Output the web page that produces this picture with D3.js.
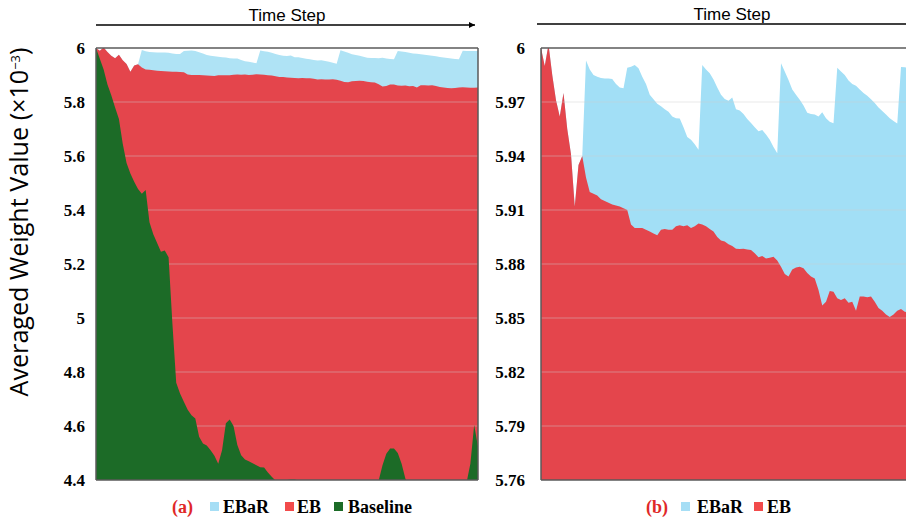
<!DOCTYPE html>
<html><head><meta charset="utf-8">
<script src="https://cdn.jsdelivr.net/npm/d3@7"></script>
<style>body{margin:0;background:#fff}</style>
</head><body><svg id="c" width="906" height="519"></svg>
<script>
const steps = d3.range(0, 101);
const eb = [6.0,5.990,6.002,5.985,5.971,5.962,5.975,5.955,5.941,5.912,5.935,5.940,5.928,5.920,5.919,5.918,5.916,5.915,5.914,5.913,
5.9125,5.912,5.911,5.910,5.902,5.900,5.900,5.900,5.899,5.898,5.897,5.896,5.899,5.8995,5.899,5.899,5.901,5.9015,5.901,5.9015,
5.900,5.901,5.9025,5.902,5.901,5.8995,5.898,5.895,5.893,5.8925,5.891,5.890,5.8885,5.8883,5.8885,5.888,5.8878,5.886,5.8837,5.8844,
5.883,5.8835,5.884,5.882,5.8785,5.8745,5.873,5.877,5.878,5.8785,5.8776,5.875,5.873,5.872,5.8656,5.857,5.859,5.865,5.8646,5.861,
5.860,5.861,5.8585,5.859,5.854,5.862,5.862,5.8615,5.862,5.859,5.8555,5.854,5.852,5.8505,5.852,5.854,5.855,5.8535,5.853,5.853,5.854];
const ebar = [6.0,5.990,6.002,5.985,5.971,5.962,5.975,5.955,5.941,5.912,5.935,5.940,5.993,5.988,5.985,5.984,5.9833,5.9831,5.9831,5.9828,
5.980,5.978,5.9776,5.989,5.9896,5.9905,5.9887,5.984,5.980,5.974,5.9715,5.969,5.9676,5.966,5.9646,5.962,5.961,5.9608,5.956,5.9505,
5.949,5.9465,5.9435,5.9905,5.988,5.986,5.9825,5.978,5.974,5.9716,5.9707,5.9725,5.966,5.9653,5.9633,5.9605,5.9584,5.956,5.9537,5.9544,
5.952,5.949,5.945,5.9415,5.9915,5.987,5.9822,5.977,5.974,5.9712,5.968,5.964,5.9633,5.963,5.962,5.9643,5.961,5.959,5.9582,5.989,
5.987,5.985,5.982,5.980,5.979,5.977,5.975,5.9735,5.9715,5.9695,5.967,5.965,5.963,5.961,5.9595,5.958,5.9895,5.9893,5.989,5.989,5.989];
const baseline = [6.0,5.96,5.92,5.865,5.825,5.78,5.737,5.645,5.574,5.535,5.505,5.478,5.46,5.474,5.355,5.31,5.278,5.245,5.25,5.225,
4.98,4.76,4.72,4.69,4.66,4.64,4.628,4.56,4.535,4.528,4.51,4.49,4.46,4.51,4.61,4.624,4.60,4.53,4.492,4.476,
4.469,4.462,4.455,4.447,4.446,4.428,4.412,4.398,4.39,4.39,4.40,4.402,4.402,4.398,4.38,4.38,4.38,4.38,4.38,4.38,
4.38,4.38,4.38,4.38,4.38,4.38,4.38,4.38,4.38,4.38,4.38,4.38,4.38,4.38,4.398,4.455,4.497,4.517,4.517,4.50,
4.46,4.405,4.38,4.38,4.38,4.38,4.38,4.38,4.38,4.38,4.38,4.38,4.38,4.38,4.38,4.38,4.38,4.39,4.46,4.604,4.523];
const leftTicks = [4.4,4.6,4.8,5,5.2,5.4,5.6,5.8,6];
const rightTicks = [5.76,5.79,5.82,5.85,5.88,5.91,5.94,5.97,6];
const legendA = ["EBaR","EB","Baseline"];
const legendB = ["EBaR","EB"];

const C = {blueL:"#afe3f5", blueR:"#a2dff6", red:"#e4454c", green:"#1c6b27",
  legBlue:"#a6def5", legRed:"#f24b4b", legGreen:"#1b6b27", frame:"#5a5a5a"};

const svg = d3.select("#c");
const defs = svg.append("defs");
defs.append("marker").attr("id","arr").attr("viewBox","0 0 10 10").attr("refX",10).attr("refY",5)
  .attr("markerWidth",4).attr("markerHeight",4).attr("orient","auto")
  .append("path").attr("d","M0,0L10,5L0,10Z").attr("fill","#000");

function panel(opts){
  const {x0,x1,xr,ticks,yDom,series,pad,id,rightBorder} = opts;
  const x = d3.scaleLinear().domain([0,100]).range([x0,xr]);
  const y = d3.scaleLinear().domain(yDom).range([480,48]);
  defs.append("clipPath").attr("id",id).append("rect")
    .attr("x",x0).attr("y",48).attr("width",x1-x0).attr("height",432);
  const g = svg.append("g").attr("clip-path",`url(#${id})`);
  const area = vals => d3.area().x((d,i)=>x(steps[i])).y0(y(yDom[0])).y1((d,i)=>y(vals[i]))(vals);
  series.forEach((s,k)=>{
    if(s.grid){
      g.append("g").selectAll("line").data(ticks.slice(1,-1)).join("line")
        .attr("x1",x0).attr("x2",x1).attr("y1",d=>y(d)).attr("y2",d=>y(d))
        .attr("stroke","#cccccc").attr("stroke-opacity",0.45).attr("stroke-width",1.2);
    } else {
      g.append("path").attr("d",area(s.vals)).attr("fill",s.color);
    }
  });
  const f = svg.append("g").attr("stroke",C.frame).attr("stroke-width",1.5).attr("fill","none");
  f.append("line").attr("x1",x0).attr("x2",x1).attr("y1",48).attr("y2",48);
  f.append("line").attr("x1",x0).attr("x2",x1).attr("y1",480).attr("y2",480);
  f.append("line").attr("x1",x0).attr("x2",x0).attr("y1",48).attr("y2",480);
  if(rightBorder) f.append("line").attr("x1",x1).attr("x2",x1).attr("y1",48).attr("y2",480);
  const ax = svg.append("g").attr("transform",`translate(${x0},0)`)
    .call(d3.axisLeft(y).tickValues(ticks).tickSize(0).tickPadding(pad).tickFormat(d=>String(+d.toFixed(2))));
  ax.select(".domain").remove();
  ax.selectAll("text").style("font-family","'Liberation Serif', serif").style("font-weight","bold")
    .style("font-size","17px").attr("fill","#000");
  return {x,y};
}

panel({x0:96,x1:478,xr:478,ticks:leftTicks,yDom:[4.4,6],pad:11,id:"cl",rightBorder:true,
  series:[{vals:ebar,color:C.blueL},{vals:eb,color:C.red},{grid:true},{vals:baseline,color:C.green}]});
panel({x0:541,x1:906,xr:916,ticks:rightTicks,yDom:[5.76,6],pad:16,id:"cr",rightBorder:false,
  series:[{vals:ebar,color:C.blueR},{vals:eb,color:C.red},{grid:true}]});

svg.append("line").attr("x1",96).attr("x2",475).attr("y1",25).attr("y2",25)
  .attr("stroke","#000").attr("stroke-width",1.5).attr("marker-end","url(#arr)");
svg.append("line").attr("x1",537).attr("x2",912).attr("y1",24).attr("y2",24)
  .attr("stroke","#000").attr("stroke-width",1.5).attr("marker-end","url(#arr)");
[[287,21],[732,20]].forEach(([cx,cy])=>{
  svg.append("text").attr("x",cx).attr("y",cy).attr("text-anchor","middle")
    .style("font-family","'Liberation Sans Narrow', 'Liberation Sans', Arial, sans-serif").style("font-size","17px").text("Time Step");
});

const yl = svg.append("text").attr("transform","translate(28,222) rotate(-90)").attr("text-anchor","middle")
  .style("font-family","'Open Sans', sans-serif").style("font-size","18px").attr("fill","#000");
yl.append("tspan").text("Averaged Weight Value (×10");
yl.append("tspan").attr("dy",-8).style("font-size","13px").text("−3");
yl.append("tspan").attr("dy",8).text(")");
const L = yl.node().getComputedTextLength();
yl.style("font-size", (18*355/L)+"px");

function legend(items, colors, label, positions){
  const lg = svg.append("g").style("font-family","'Liberation Serif', serif").style("font-weight","bold").style("font-size","18px");
  lg.append("text").attr("x",positions.label).attr("y",513).attr("fill","#e02828").text(label);
  items.forEach((t,i)=>{
    lg.append("rect").attr("x",positions.sq[i]).attr("y",502).attr("width",9).attr("height",9).attr("fill",colors[i]);
    lg.append("text").attr("x",positions.tx[i]).attr("y",513).attr("fill","#000").text(t);
  });
}
legend(legendA,[C.legBlue,C.legRed,C.legGreen],"(a)",{label:172,sq:[210,285,334],tx:[223,297,348]});
legend(legendB,[C.legBlue,C.legRed],"(b)",{label:646,sq:[681,754],tx:[697,767]});
</script></body></html>
